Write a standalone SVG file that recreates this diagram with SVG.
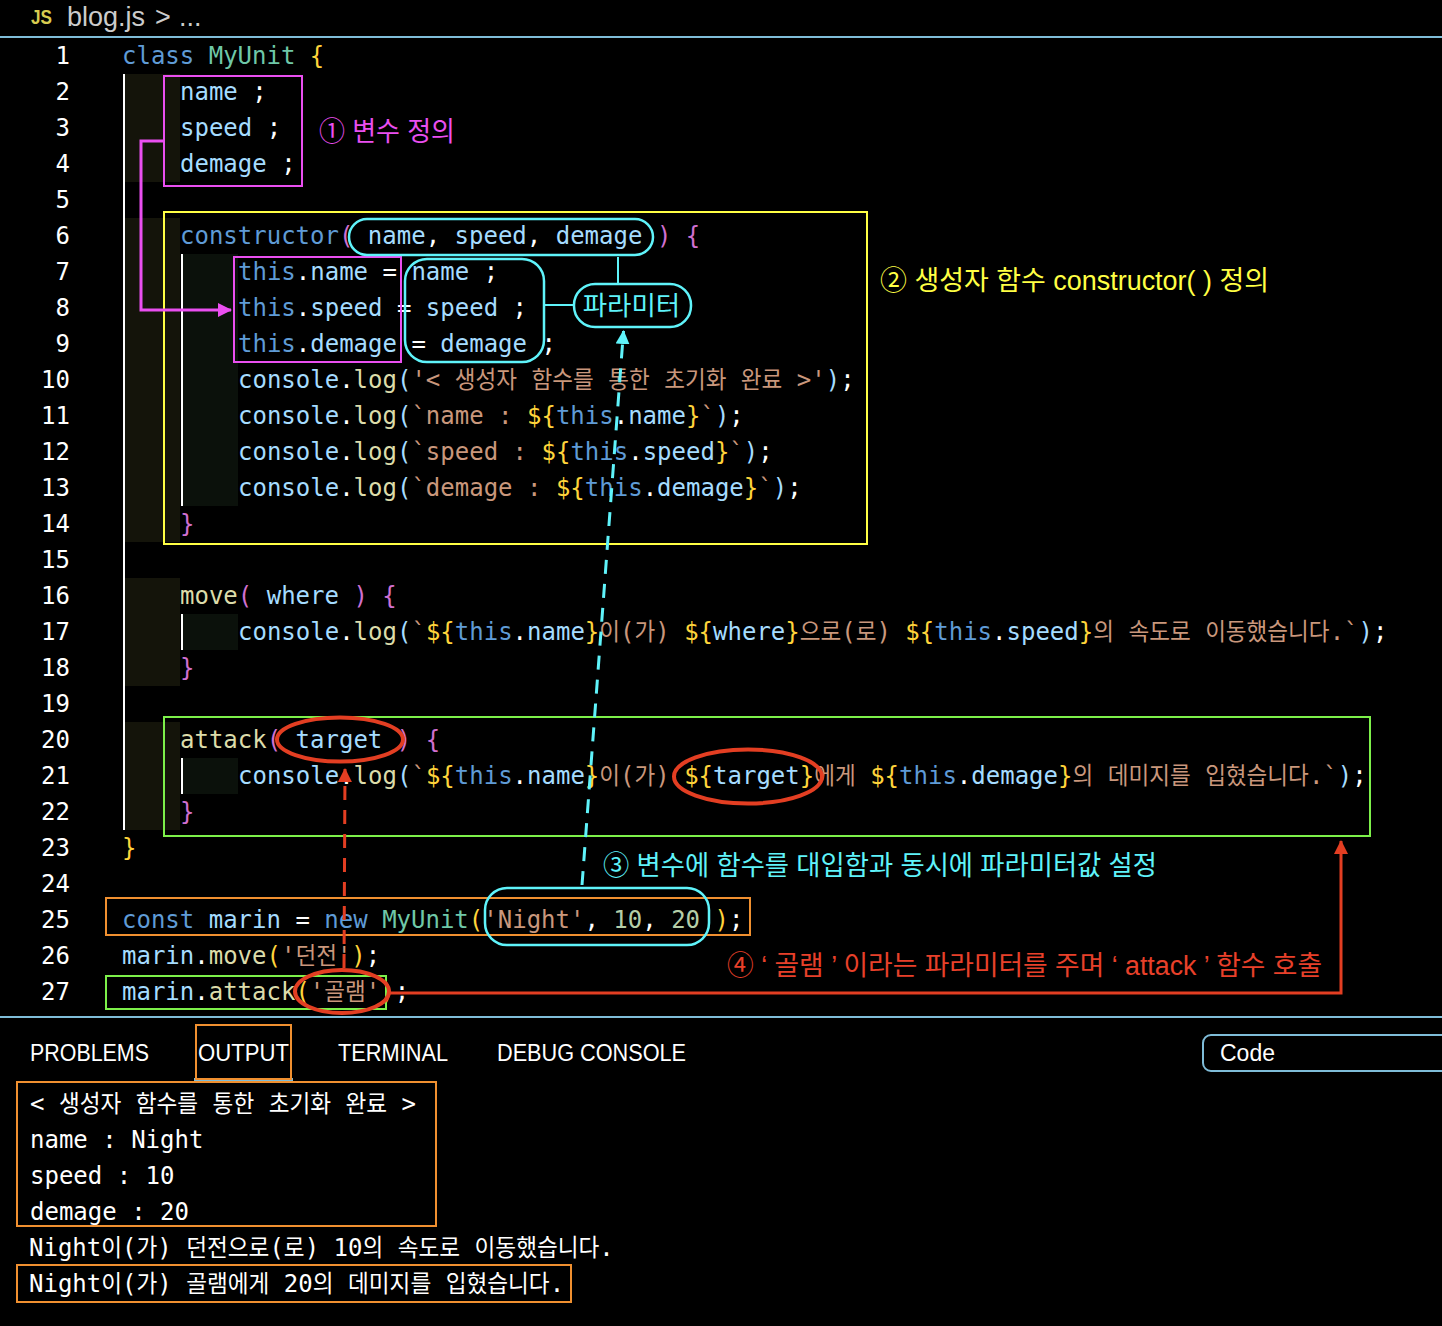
<svg xmlns="http://www.w3.org/2000/svg" width="1442" height="1326" viewBox="0 0 1442 1326">
<style>
text{white-space:pre}
.m{font-family:"DejaVu Sans Mono","Noto Sans CJK KR",monospace;font-size:24px;fill:#fff}
.n{text-anchor:end}
.u{font-family:"Liberation Sans","Noto Sans",sans-serif;font-size:23px;fill:#fff}
.a{font-family:"Liberation Sans","Noto Sans CJK KR",sans-serif;font-size:27px;font-weight:400}
.k{fill:#5f9bd6}.t{fill:#6fc8a8}.v{fill:#a5dcff}.f{fill:#dcdcaa}.s{fill:#c9977c}.d{fill:#b5cea8}.y{fill:#ffd43b}.p{fill:#d070d0}
.box{fill:none;stroke-width:2}
.mg{stroke:#ea4ff0}.ye{stroke:#ffff44}.gr{stroke:#7df04a}.or{stroke:#f09030}.cy{fill:none;stroke:#5ff3fa;stroke-width:2.5}
.re{fill:none;stroke:#e33e22;stroke-width:4}
.b1{fill:#14140a}.b2{fill:#0b110b}
</style>
<defs>
<marker id="am" markerUnits="userSpaceOnUse" markerWidth="14" markerHeight="14" refX="13" refY="7" orient="auto"><path d="M0 0L14 7L0 14Z" fill="#ea4ff0"/></marker>
<marker id="ac" markerUnits="userSpaceOnUse" markerWidth="14" markerHeight="14" refX="13" refY="7" orient="auto"><path d="M0 0L14 7L0 14Z" fill="#5ff3fa"/></marker>
<marker id="ar" markerUnits="userSpaceOnUse" markerWidth="14" markerHeight="14" refX="13" refY="7" orient="auto"><path d="M0 0L14 7L0 14Z" fill="#e33e22"/></marker>
</defs>
<rect width="1442" height="1326" fill="#000"/>
<g id="chrome">
<text x="31" y="24" font-family="'Liberation Sans',sans-serif" font-size="20" font-weight="700" fill="#d8cc50" textLength="21" lengthAdjust="spacingAndGlyphs">JS</text>
<text x="67" y="26" font-family="'Liberation Sans',sans-serif" font-size="27" fill="#ccc">blog.js</text>
<text x="155" y="26" font-family="'Liberation Sans',sans-serif" font-size="27" fill="#ccc">&gt;</text>
<text x="179" y="26" font-family="'Liberation Sans',sans-serif" font-size="27" fill="#ccc">...</text>
<rect x="0" y="36" width="1442" height="2" fill="#7fbcd8"/>
<rect x="0" y="1016" width="1442" height="2" fill="#7fbcd8"/>
</g>
<g id="indent">
<rect class="b1" x="125" y="74" width="55" height="108"/><rect class="b1" x="125" y="218" width="55" height="324"/><rect class="b1" x="125" y="578" width="55" height="108"/><rect class="b1" x="125" y="722" width="55" height="108"/>
<rect class="b2" x="182" y="254" width="56" height="252"/><rect class="b2" x="182" y="614" width="56" height="36"/><rect class="b2" x="182" y="758" width="56" height="36"/>
<rect x="123" y="74" width="2" height="756" fill="#fff"/>
<rect x="181" y="254" width="2" height="252" fill="#fff"/><rect x="181" y="614" width="2" height="36" fill="#fff"/><rect x="181" y="758" width="2" height="36" fill="#fff"/>
</g>
<g id="linenumbers">
<text class="m n" x="70" y="64">1</text><text class="m n" x="70" y="100">2</text><text class="m n" x="70" y="136">3</text><text class="m n" x="70" y="172">4</text><text class="m n" x="70" y="208">5</text><text class="m n" x="70" y="244">6</text><text class="m n" x="70" y="280">7</text><text class="m n" x="70" y="316">8</text><text class="m n" x="70" y="352">9</text><text class="m n" x="70" y="388">10</text><text class="m n" x="70" y="424">11</text><text class="m n" x="70" y="460">12</text><text class="m n" x="70" y="496">13</text><text class="m n" x="70" y="532">14</text><text class="m n" x="70" y="568">15</text><text class="m n" x="70" y="604">16</text><text class="m n" x="70" y="640">17</text><text class="m n" x="70" y="676">18</text><text class="m n" x="70" y="712">19</text><text class="m n" x="70" y="748">20</text><text class="m n" x="70" y="784">21</text><text class="m n" x="70" y="820">22</text><text class="m n" x="70" y="856">23</text><text class="m n" x="70" y="892">24</text><text class="m n" x="70" y="928">25</text><text class="m n" x="70" y="964">26</text><text class="m n" x="70" y="1000">27</text>
</g>
<g id="code">
<text class="m" x="122" y="64"><tspan class="k">class</tspan> <tspan class="t">MyUnit</tspan> <tspan class="y">{</tspan></text>
<text class="m" x="180" y="100"><tspan class="v">name</tspan> ;</text>
<text class="m" x="180" y="136"><tspan class="v">speed</tspan> ;</text>
<text class="m" x="180" y="172"><tspan class="v">demage</tspan> ;</text>
<text class="m" x="180" y="244"><tspan class="k">constructor</tspan><tspan class="p">(</tspan> <tspan class="v">name</tspan>, <tspan class="v">speed</tspan>, <tspan class="v">demage</tspan> <tspan class="p">)</tspan> <tspan class="p">{</tspan></text>
<text class="m" x="238" y="280"><tspan class="k">this</tspan>.<tspan class="v">name</tspan> = <tspan class="v">name</tspan> ;</text>
<text class="m" x="238" y="316"><tspan class="k">this</tspan>.<tspan class="v">speed</tspan> = <tspan class="v">speed</tspan> ;</text>
<text class="m" x="238" y="352"><tspan class="k">this</tspan>.<tspan class="v">demage</tspan> = <tspan class="v">demage</tspan> ;</text>
<text class="m" x="238" y="388"><tspan class="v">console</tspan>.<tspan class="f">log</tspan><tspan class="v">(</tspan><tspan class="s">'&lt; </tspan><tspan class="s" textLength="62.250" lengthAdjust="spacingAndGlyphs">생성자</tspan><tspan class="s"> </tspan><tspan class="s" textLength="62.250" lengthAdjust="spacingAndGlyphs">함수를</tspan><tspan class="s"> </tspan><tspan class="s" textLength="41.500" lengthAdjust="spacingAndGlyphs">통한</tspan><tspan class="s"> </tspan><tspan class="s" textLength="62.250" lengthAdjust="spacingAndGlyphs">초기화</tspan><tspan class="s"> </tspan><tspan class="s" textLength="41.500" lengthAdjust="spacingAndGlyphs">완료</tspan><tspan class="s"> &gt;'</tspan><tspan class="v">)</tspan>;</text>
<text class="m" x="238" y="424"><tspan class="v">console</tspan>.<tspan class="f">log</tspan><tspan class="v">(</tspan><tspan class="s">`name : </tspan><tspan class="y">${</tspan><tspan class="k">this</tspan>.<tspan class="v">name</tspan><tspan class="y">}</tspan><tspan class="s">`</tspan><tspan class="v">)</tspan>;</text>
<text class="m" x="238" y="460"><tspan class="v">console</tspan>.<tspan class="f">log</tspan><tspan class="v">(</tspan><tspan class="s">`speed : </tspan><tspan class="y">${</tspan><tspan class="k">this</tspan>.<tspan class="v">speed</tspan><tspan class="y">}</tspan><tspan class="s">`</tspan><tspan class="v">)</tspan>;</text>
<text class="m" x="238" y="496"><tspan class="v">console</tspan>.<tspan class="f">log</tspan><tspan class="v">(</tspan><tspan class="s">`demage : </tspan><tspan class="y">${</tspan><tspan class="k">this</tspan>.<tspan class="v">demage</tspan><tspan class="y">}</tspan><tspan class="s">`</tspan><tspan class="v">)</tspan>;</text>
<text class="m" x="180" y="532" style="fill:#d070d0">}</text>
<text class="m" x="180" y="604"><tspan class="f">move</tspan><tspan class="p">(</tspan> <tspan class="v">where</tspan> <tspan class="p">)</tspan> <tspan class="p">{</tspan></text>
<text class="m" x="238" y="640"><tspan class="v">console</tspan>.<tspan class="f">log</tspan><tspan class="v">(</tspan><tspan class="s">`</tspan><tspan class="y">${</tspan><tspan class="k">this</tspan>.<tspan class="v">name</tspan><tspan class="y">}</tspan><tspan class="s" textLength="20.750" lengthAdjust="spacingAndGlyphs">이</tspan><tspan class="s">(</tspan><tspan class="s" textLength="20.750" lengthAdjust="spacingAndGlyphs">가</tspan><tspan class="s">) </tspan><tspan class="y">${</tspan><tspan class="v">where</tspan><tspan class="y">}</tspan><tspan class="s" textLength="41.500" lengthAdjust="spacingAndGlyphs">으로</tspan><tspan class="s">(</tspan><tspan class="s" textLength="20.750" lengthAdjust="spacingAndGlyphs">로</tspan><tspan class="s">) </tspan><tspan class="y">${</tspan><tspan class="k">this</tspan>.<tspan class="v">speed</tspan><tspan class="y">}</tspan><tspan class="s" textLength="20.750" lengthAdjust="spacingAndGlyphs">의</tspan><tspan class="s"> </tspan><tspan class="s" textLength="62.250" lengthAdjust="spacingAndGlyphs">속도로</tspan><tspan class="s"> </tspan><tspan class="s" textLength="124.500" lengthAdjust="spacingAndGlyphs">이동했습니다</tspan><tspan class="s">.`</tspan><tspan class="v">)</tspan>;</text>
<text class="m" x="180" y="676" style="fill:#d070d0">}</text>
<text class="m" x="180" y="748"><tspan class="f">attack</tspan><tspan class="p">(</tspan> <tspan class="v">target</tspan> <tspan class="p">)</tspan> <tspan class="p">{</tspan></text>
<text class="m" x="238" y="784"><tspan class="v">console</tspan>.<tspan class="f">log</tspan><tspan class="v">(</tspan><tspan class="s">`</tspan><tspan class="y">${</tspan><tspan class="k">this</tspan>.<tspan class="v">name</tspan><tspan class="y">}</tspan><tspan class="s" textLength="20.750" lengthAdjust="spacingAndGlyphs">이</tspan><tspan class="s">(</tspan><tspan class="s" textLength="20.750" lengthAdjust="spacingAndGlyphs">가</tspan><tspan class="s">) </tspan><tspan class="y">${</tspan><tspan class="v">target</tspan><tspan class="y">}</tspan><tspan class="s" textLength="41.500" lengthAdjust="spacingAndGlyphs">에게</tspan><tspan class="s"> </tspan><tspan class="y">${</tspan><tspan class="k">this</tspan>.<tspan class="v">demage</tspan><tspan class="y">}</tspan><tspan class="s" textLength="20.750" lengthAdjust="spacingAndGlyphs">의</tspan><tspan class="s"> </tspan><tspan class="s" textLength="83" lengthAdjust="spacingAndGlyphs">데미지를</tspan><tspan class="s"> </tspan><tspan class="s" textLength="103.750" lengthAdjust="spacingAndGlyphs">입혔습니다</tspan><tspan class="s">.`</tspan><tspan class="v">)</tspan>;</text>
<text class="m" x="180" y="820" style="fill:#d070d0">}</text>
<text class="m" x="122" y="856" style="fill:#ffd43b">}</text>
<text class="m" x="122" y="928"><tspan class="k">const</tspan> <tspan class="v">marin</tspan> = <tspan class="k">new</tspan> <tspan class="t">MyUnit</tspan><tspan class="y">(</tspan><tspan class="s">'Night'</tspan>, <tspan class="d">10</tspan>, <tspan class="d">20</tspan> <tspan class="y">)</tspan>;</text>
<text class="m" x="122" y="964"><tspan class="v">marin</tspan>.<tspan class="f">move</tspan><tspan class="y">(</tspan><tspan class="s">'</tspan><tspan class="s" textLength="41.500" lengthAdjust="spacingAndGlyphs">던전</tspan><tspan class="s">'</tspan><tspan class="y">)</tspan>;</text>
<text class="m" x="122" y="1000"><tspan class="v">marin</tspan>.<tspan class="f">attack</tspan><tspan class="y">(</tspan><tspan class="s">'</tspan><tspan class="s" textLength="41.500" lengthAdjust="spacingAndGlyphs">골램</tspan><tspan class="s">'</tspan><tspan class="y">)</tspan>;</text>
</g>
<g id="panel">
<text class="u" x="30" y="1061" textLength="119" lengthAdjust="spacingAndGlyphs">PROBLEMS</text>
<text class="u" x="198" y="1061" textLength="91" lengthAdjust="spacingAndGlyphs">OUTPUT</text>
<text class="u" x="338" y="1061" textLength="110" lengthAdjust="spacingAndGlyphs">TERMINAL</text>
<text class="u" x="497" y="1061" textLength="189" lengthAdjust="spacingAndGlyphs">DEBUG CONSOLE</text>
<rect x="194" y="1078" width="99" height="3" fill="#7fbcd8"/>
<path d="M1442 1035H1211a8 8 0 0 0-8 8V1063a8 8 0 0 0 8 8H1442" fill="none" stroke="#7fbcd8" stroke-width="2"/>
<text class="u" x="1220" y="1061" textLength="55" lengthAdjust="spacingAndGlyphs">Code</text>
<text class="m" x="30" y="1112">&lt; <tspan textLength="62.400" lengthAdjust="spacingAndGlyphs">생성자</tspan> <tspan textLength="62.400" lengthAdjust="spacingAndGlyphs">함수를</tspan> <tspan textLength="41.600" lengthAdjust="spacingAndGlyphs">통한</tspan> <tspan textLength="62.400" lengthAdjust="spacingAndGlyphs">초기화</tspan> <tspan textLength="41.600" lengthAdjust="spacingAndGlyphs">완료</tspan> &gt;</text>
<text class="m" x="30" y="1148">name : Night</text>
<text class="m" x="30" y="1184">speed : 10</text>
<text class="m" x="30" y="1220">demage : 20</text>
<text class="m" x="29" y="1256">Night<tspan textLength="20.800" lengthAdjust="spacingAndGlyphs">이</tspan>(<tspan textLength="20.800" lengthAdjust="spacingAndGlyphs">가</tspan>) <tspan textLength="83.200" lengthAdjust="spacingAndGlyphs">던전으로</tspan>(<tspan textLength="20.800" lengthAdjust="spacingAndGlyphs">로</tspan>) 10<tspan textLength="20.800" lengthAdjust="spacingAndGlyphs">의</tspan> <tspan textLength="62.400" lengthAdjust="spacingAndGlyphs">속도로</tspan> <tspan textLength="124.800" lengthAdjust="spacingAndGlyphs">이동했습니다</tspan>.</text>
<text class="m" x="29" y="1292">Night<tspan textLength="20.800" lengthAdjust="spacingAndGlyphs">이</tspan>(<tspan textLength="20.800" lengthAdjust="spacingAndGlyphs">가</tspan>) <tspan textLength="83.200" lengthAdjust="spacingAndGlyphs">골램에게</tspan> 20<tspan textLength="20.800" lengthAdjust="spacingAndGlyphs">의</tspan> <tspan textLength="83.200" lengthAdjust="spacingAndGlyphs">데미지를</tspan> <tspan textLength="104" lengthAdjust="spacingAndGlyphs">입혔습니다</tspan>.</text>
</g>
<g id="fields"><rect class="box mg" x="164" y="76" width="138" height="110"/></g>
<g id="constructor-box"><rect class="box ye" x="164" y="212" width="703" height="332"/></g>
<g id="this-box"><rect class="box mg" x="234" y="257" width="167" height="105"/></g>
<g id="params"><rect class="cy" x="349" y="219" width="304" height="36" rx="18"/></g>
<g id="assign"><rect class="cy" x="405" y="259" width="139" height="103" rx="22"/></g>
<g id="param-label"><rect class="cy" x="574" y="284" width="117" height="43" rx="21"/><text x="631.500" y="315" text-anchor="middle" font-family="'Noto Sans CJK KR',sans-serif" font-size="26.500" font-weight="400" fill="#5ff3fa">파라미터</text></g>
<g id="attack-box"><rect class="box gr" x="164" y="717" width="1206" height="119"/></g>
<g id="new-box"><rect class="box or" x="106" y="898" width="644" height="37"/></g>
<g id="args"><rect class="cy" x="485" y="888" width="224" height="57" rx="22"/></g>
<g id="call-box"><rect class="box gr" x="106" y="976" width="280" height="33"/></g>
<g id="output-tab"><rect class="box or" x="196" y="1025" width="95" height="54"/></g>
<g id="output-box"><rect class="box or" x="17" y="1082" width="419" height="144"/></g>
<g id="output-last"><rect class="box or" x="17" y="1265" width="554" height="37"/></g>
<g id="ellipses">
<ellipse class="re" cx="340" cy="739.500" rx="63" ry="22"/>
<ellipse class="re" cx="748" cy="776.500" rx="74" ry="27"/>
<ellipse class="re" cx="342" cy="991.500" rx="47" ry="21.500"/>
</g>
<g id="connectors" fill="none">
<path d="M164 141H141V310H231" stroke="#ea4ff0" stroke-width="3" marker-end="url(#am)"/>
<path d="M544 305H574M618 257V284" stroke="#5ff3fa" stroke-width="2"/>
<path d="M582 885L623.500 331" stroke="#5ff3fa" stroke-width="3" stroke-dasharray="14 10" marker-end="url(#ac)"/>
<path d="M344 968L345 769" stroke="#e33e22" stroke-width="3" stroke-dasharray="14 10" marker-end="url(#ar)"/>
<path d="M389 993H1341V841" stroke="#e33e22" stroke-width="3" marker-end="url(#ar)"/>
</g>
<g id="annotations">
<text class="a" x="319" y="141" fill="#ea4ff0" textLength="136" lengthAdjust="spacingAndGlyphs">① 변수 정의</text>
<text class="a" x="880" y="290" fill="#ffff44" textLength="389" lengthAdjust="spacingAndGlyphs">② 생성자 함수 constructor( ) 정의</text>
<text class="a" x="603" y="875" fill="#5ff3fa" textLength="554" lengthAdjust="spacingAndGlyphs">③ 변수에 함수를 대입함과 동시에 파라미터값 설정</text>
<text class="a" x="727" y="975" fill="#e8402a" textLength="595" lengthAdjust="spacingAndGlyphs">④ ‘ 골램 ’ 이라는 파라미터를 주며 ‘ attack ’ 함수 호출</text>
</g>
</svg>
